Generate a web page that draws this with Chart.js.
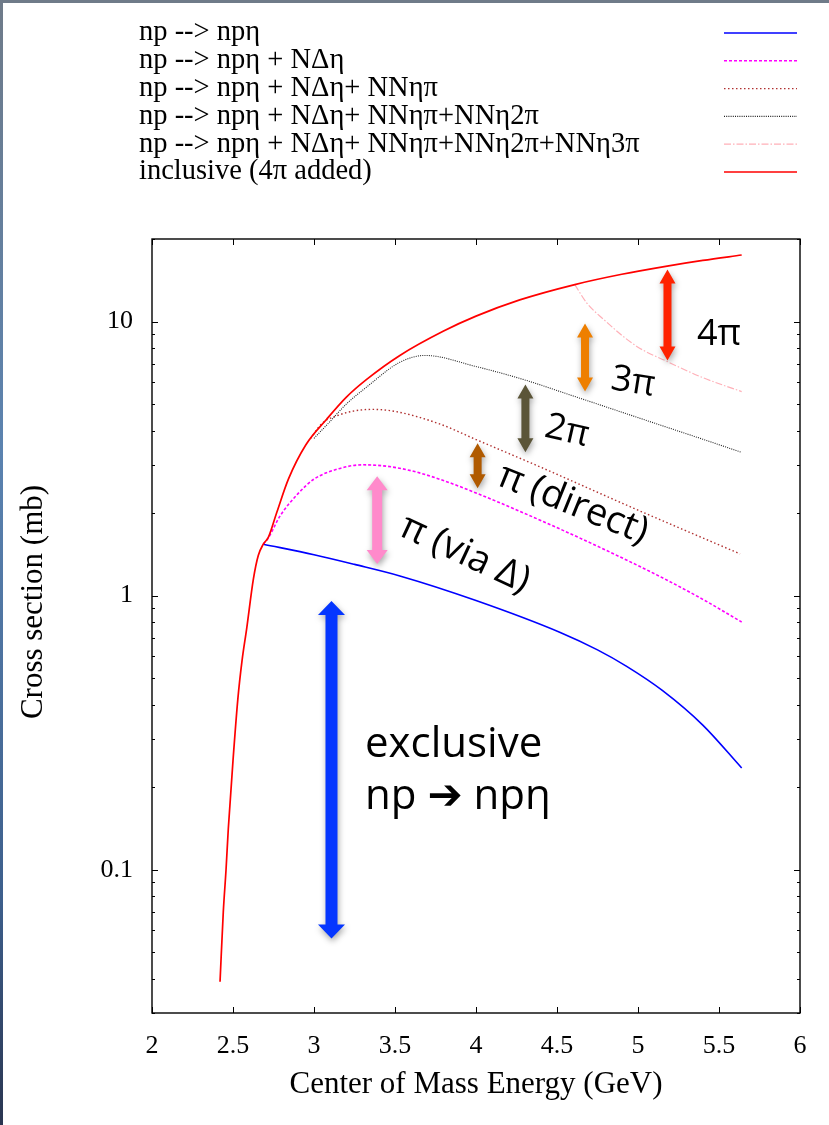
<!DOCTYPE html>
<html>
<head>
<meta charset="utf-8">
<script src="https://cdn.jsdelivr.net/npm/chart.js@4.4.1/dist/chart.umd.min.js"></script>
<style>
  html, body { margin: 0; padding: 0; background: #fff; }
  #wrap { position: relative; width: 829px; height: 1125px; overflow: hidden; }
  #top-edge { position: absolute; left: 0; top: 0; width: 829px; height: 3px; background: #6f7b89; }
  #left-edge { position: absolute; left: 0; top: 0; width: 3px; height: 1125px;
               background: linear-gradient(#6f7b89, #5b83b0 40%, #3d5f8c 80%, #2a3550); }
</style>
</head>
<body>
<div id="wrap">
  <canvas id="chart" width="829" height="1125"></canvas>
  <div id="top-edge"></div>
  <div id="left-edge"></div>
</div>
<script>
// sections efficaces np -> np eta (mb) en fonction de sqrt(s) (GeV)
const exclE   = [2.687, 3.0, 3.25, 3.53, 4.0, 4.52, 4.75, 4.93, 5.15, 5.4, 5.64];
const exclSig = [1.54, 1.41, 1.30, 1.18, 0.96, 0.734, 0.634, 0.552, 0.451, 0.337, 0.235];

const deltaE   = [2.687, 2.72, 2.79, 2.9, 3.0, 3.15, 3.3, 3.45, 3.6, 3.78, 4.0, 4.52, 5.0, 5.18, 5.4, 5.64];
const deltaSig = [1.54, 1.63, 1.95, 2.35, 2.66, 2.9, 3.0, 2.964, 2.855, 2.653, 2.369, 1.748, 1.287, 1.138, 0.969, 0.801];

const pi1E   = [2.98, 3.05, 3.15, 3.25, 3.36, 3.5, 3.78, 4.0, 4.4, 5.0, 5.3, 5.63];
const pi1Sig = [3.75, 4.25, 4.55, 4.72, 4.78, 4.7, 4.22, 3.71, 2.94, 2.05, 1.72, 1.42];

const pi2E   = [3.0, 3.08, 3.2, 3.33, 3.53, 3.685, 4.0, 4.29, 4.6, 5.0, 5.18, 5.4, 5.64];
const pi2Sig = [3.75, 4.2, 5.0, 5.8, 7.1, 7.52, 6.85, 6.15, 5.35, 4.46, 4.11, 3.72, 3.33];

const pi3E   = [4.61, 4.683, 4.786, 4.99, 5.177, 5.4, 5.64];
const pi3Sig = [13.64, 11.7, 10.2, 8.13, 7.16, 6.24, 5.55];

const inclE   = [2.42, 2.44, 2.457, 2.471, 2.5, 2.53, 2.556, 2.584, 2.626, 2.656, 2.687, 2.718, 2.77,
                 2.842, 2.95, 3.078, 3.2, 3.325, 3.53, 3.8, 4.0, 4.27, 4.61, 4.9, 5.18, 5.4, 5.64];
const inclSig = [0.039, 0.07, 0.1, 0.141, 0.25, 0.42, 0.58, 0.755, 1.15, 1.40, 1.54, 1.63, 2.01,
                 2.66, 3.55, 4.40, 5.3, 6.15, 7.52, 9.23, 10.46, 11.99, 13.64, 14.87, 15.93, 16.71, 17.48];

const seriesLabels = [
  'np --> npη',
  'np --> npη + NΔη',
  'np --> npη + NΔη+ NNηπ',
  'np --> npη + NΔη+ NNηπ+NNη2π',
  'np --> npη + NΔη+ NNηπ+NNη2π+NNη3π',
  'inclusive (4π added)'
];

const xTickValues = [2, 2.5, 3, 3.5, 4, 4.5, 5, 5.5, 6];
const yTickValues = [0.1, 1, 10];
const yMinorValues = [0.03, 0.04, 0.05, 0.06, 0.07, 0.08, 0.09, 0.2, 0.3, 0.4, 0.5, 0.6, 0.7, 0.8, 0.9,
                      2, 3, 4, 5, 6, 7, 8, 9, 20];

// fleches : abscisse, haut et bas (mb)
const arrowE      = [3.108, 3.39, 4.01, 4.305, 4.673, 5.182];
const arrowTop    = [0.955, 2.725, 3.594, 5.894, 9.83, 15.47];
const arrowBottom = [0.0561, 1.303, 2.464, 3.333, 5.56, 7.21];
const arrowColors = ['#0536ff', '#ff8acb', '#b05a00', '#5b5538', '#ee7f00', '#ff2300'];
const arrowShaft  = [12, 10, 8, 8, 8, 8];
const arrowHead   = [27, 21, 16, 16, 16, 16];

// etiquettes : texte, centre (E, mb), rotation (deg)
const noteTexts = ['4π', '3π', '2π', 'π (direct)', 'π (via Δ)'];
const noteE     = [5.5, 4.969, 4.562, 4.599, 3.932];
const noteSig   = [8.97, 5.995, 3.975, 2.154, 1.416];
const noteRot   = [0, 9, 13, 22, 25];

const exclusiveLines = ['exclusive', 'np ➔ npη'];
const exclusiveE = 3.315;
const exclusiveSig = [0.258, 0.1667];

const serif = "'Liberation Serif', 'Times New Roman', serif";
const sans = "'Open Sans', 'Noto Sans', 'DejaVu Sans', sans-serif";

function pts(xs, ys) {
  return xs.map((v, i) => ({ x: v, y: ys[i] }));
}

const datasets = [
  { label: seriesLabels[0], data: pts(exclE, exclSig), borderColor: '#0000ff', borderWidth: 1.6, order: 2 },
  { label: seriesLabels[1], data: pts(deltaE, deltaSig), borderColor: '#ff00ff', borderWidth: 1.6, borderDash: [3, 2], order: 3 },
  { label: seriesLabels[2], data: pts(pi1E, pi1Sig), borderColor: '#b03030', borderWidth: 1.4, borderDash: [1.5, 2.5], order: 4 },
  { label: seriesLabels[3], data: pts(pi2E, pi2Sig), borderColor: '#222222', borderWidth: 1.1, borderDash: [1, 1.2], order: 5 },
  { label: seriesLabels[4], data: pts(pi3E, pi3Sig), borderColor: '#ffb0b8', borderWidth: 1.2, borderDash: [7, 2, 1.5, 2], order: 6 },
  { label: seriesLabels[5], data: pts(inclE, inclSig), borderColor: '#ff0000', borderWidth: 1.7, order: 1 }
];
datasets.forEach(d => {
  d.pointRadius = 0;
  d.fill = false;
  d.cubicInterpolationMode = 'monotone';
});

function drawArrow(ctx, cx, yTop, yBot, w, hw, color) {
  const hl = Math.min(14, (yBot - yTop) / 3);
  ctx.save();
  ctx.fillStyle = color;
  ctx.shadowColor = 'rgba(0,0,0,0.35)';
  ctx.shadowBlur = 6;
  ctx.shadowOffsetX = 1;
  ctx.shadowOffsetY = 3;
  ctx.beginPath();
  ctx.moveTo(cx, yTop);
  ctx.lineTo(cx + hw / 2, yTop + hl);
  ctx.lineTo(cx + w / 2, yTop + hl);
  ctx.lineTo(cx + w / 2, yBot - hl);
  ctx.lineTo(cx + hw / 2, yBot - hl);
  ctx.lineTo(cx, yBot);
  ctx.lineTo(cx - hw / 2, yBot - hl);
  ctx.lineTo(cx - w / 2, yBot - hl);
  ctx.lineTo(cx - w / 2, yTop + hl);
  ctx.lineTo(cx - hw / 2, yTop + hl);
  ctx.closePath();
  ctx.fill();
  ctx.restore();
}

const gnuplotFrame = {
  id: 'gnuplotFrame',
  afterDatasetsDraw(chart) {
    const { ctx, chartArea: a, scales: { x, y } } = chart;
    ctx.save();
    ctx.strokeStyle = '#000';
    ctx.lineWidth = 1;
    const seg = (x1, y1, x2, y2) => { ctx.beginPath(); ctx.moveTo(x1, y1); ctx.lineTo(x2, y2); ctx.stroke(); };
    xTickValues.forEach(v => {
      const px = Math.round(x.getPixelForValue(v)) + 0.5;
      seg(px, a.bottom, px, a.bottom - 6);
      seg(px, a.top, px, a.top + 6);
    });
    yTickValues.forEach(v => {
      const py = Math.round(y.getPixelForValue(v)) + 0.5;
      seg(a.left, py, a.left + 6, py);
      seg(a.right, py, a.right - 6, py);
    });
    yMinorValues.forEach(v => {
      const py = Math.round(y.getPixelForValue(v)) + 0.5;
      seg(a.left, py, a.left + 3, py);
      seg(a.right, py, a.right - 3, py);
    });
    ctx.lineWidth = 1.4;
    ctx.strokeRect(a.left, a.top, a.right - a.left, a.bottom - a.top);

    // titres des axes
    ctx.fillStyle = '#000';
    ctx.font = '31px ' + serif;
    ctx.textAlign = 'center';
    ctx.textBaseline = 'middle';
    ctx.fillText('Center of Mass Energy (GeV)', (a.left + a.right) / 2, 1085);
    ctx.save();
    ctx.translate(34, 602);
    ctx.rotate(-Math.PI / 2);
    ctx.fillText('Cross section (mb)', 0, 0);
    ctx.restore();

    // legende
    ctx.font = '28.5px ' + serif;
    ctx.textAlign = 'left';
    chart.data.datasets.forEach((d, i) => {
      const ry = 33 + i * 27.8;
      ctx.fillText(d.label, 139, ry);
      ctx.save();
      ctx.strokeStyle = d.borderColor;
      ctx.lineWidth = d.borderWidth;
      ctx.setLineDash(d.borderDash || []);
      seg(724, ry, 797, ry);
      ctx.restore();
    });
    ctx.restore();
  },
  afterDraw(chart) {
    const { ctx, scales: { x, y } } = chart;
    arrowE.forEach((e, i) => {
      drawArrow(ctx, x.getPixelForValue(e), y.getPixelForValue(arrowTop[i]),
        y.getPixelForValue(arrowBottom[i]), arrowShaft[i], arrowHead[i], arrowColors[i]);
    });
    ctx.save();
    ctx.fillStyle = '#000';
    ctx.textAlign = 'center';
    ctx.textBaseline = 'middle';
    noteTexts.forEach((t, i) => {
      ctx.save();
      ctx.translate(x.getPixelForValue(noteE[i]), y.getPixelForValue(noteSig[i]));
      ctx.rotate(noteRot[i] * Math.PI / 180);
      ctx.font = (i < 3 ? '36px ' : '38px ') + sans;
      ctx.fillText(t, 0, 0);
      ctx.restore();
    });
    ctx.textAlign = 'left';
    ctx.textBaseline = 'alphabetic';
    ctx.font = '42px ' + sans;
    exclusiveLines.forEach((t, i) => {
      ctx.fillText(t, x.getPixelForValue(exclusiveE), y.getPixelForValue(exclusiveSig[i]));
    });
    ctx.restore();
  }
};

const tickFont = { family: serif, size: 26 };

new Chart(document.getElementById('chart'), {
  type: 'line',
  data: { datasets: datasets },
  options: {
    responsive: false,
    animation: false,
    layout: { padding: { top: 239, right: 29, left: 0, bottom: 0 } },
    plugins: { legend: { display: false }, tooltip: { enabled: false } },
    scales: {
      x: {
        type: 'linear', min: 2, max: 6,
        afterFit: s => { s.height = 112; },
        afterBuildTicks: s => { s.ticks = xTickValues.map(v => ({ value: v })); },
        ticks: { padding: 18, color: '#000', font: tickFont, maxRotation: 0, callback: v => String(v) },
        grid: { display: false, drawTicks: false },
        border: { display: false }
      },
      y: {
        type: 'logarithmic', min: 0.03, max: 20,
        afterFit: s => { s.width = 152; },
        afterBuildTicks: s => { s.ticks = yTickValues.map(v => ({ value: v })); },
        ticks: { padding: 19, color: '#000', font: tickFont, callback: v => String(v) },
        grid: { display: false, drawTicks: false },
        border: { display: false }
      }
    }
  },
  plugins: [gnuplotFrame]
});
</script>
</body>
</html>
